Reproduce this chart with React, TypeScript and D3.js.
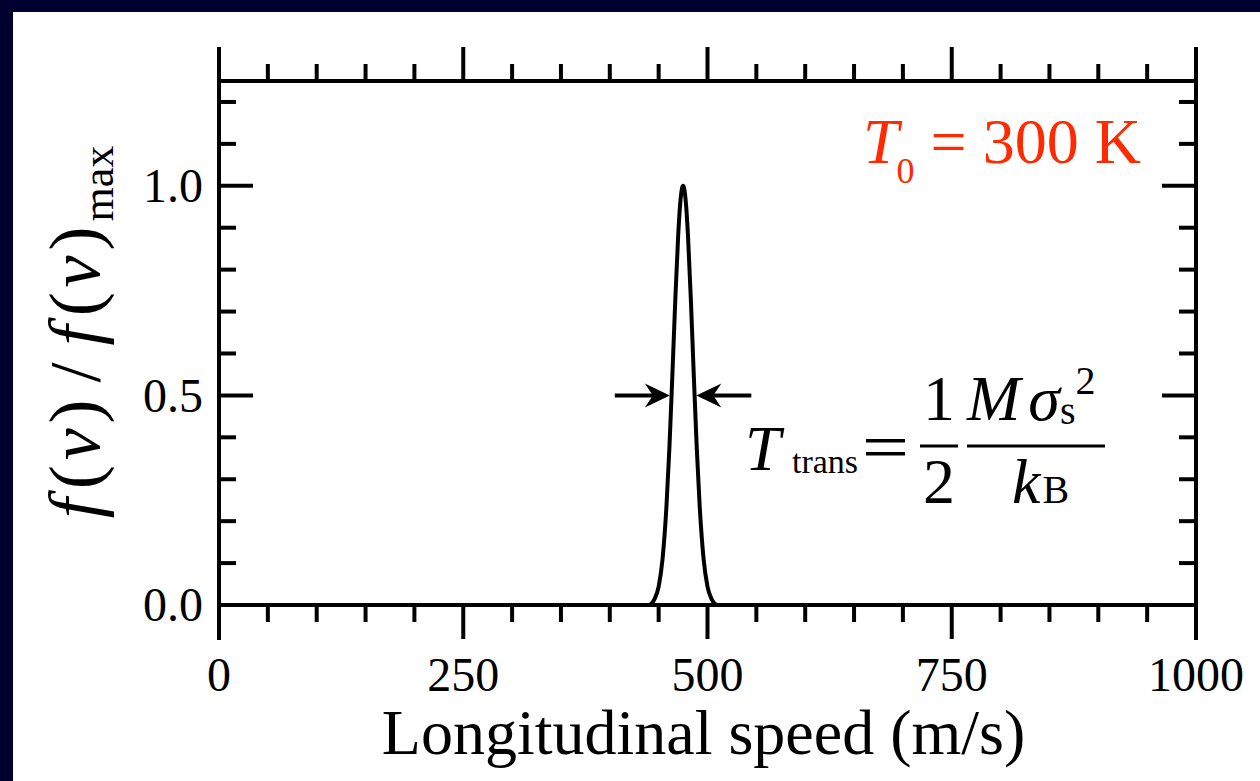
import React from "react";
import * as d3 from "d3";

// Data (normalised distribution vs longitudinal speed)
const speeds = [0, 440, 446, 450, 454, 458, 461, 464, 467, 470, 472, 474, 475, 476, 478, 480, 483, 486, 489, 492, 496, 500, 504, 510, 1000];
const fNorm = [0, 0, 0.015, 0.044, 0.11, 0.236, 0.375, 0.546, 0.726, 0.882, 0.956, 0.995, 1, 0.995, 0.956, 0.882, 0.726, 0.546, 0.375, 0.236, 0.11, 0.044, 0.015, 0, 0];
const xMajorTicks = [0, 250, 500, 750, 1000];
const xMinorTicks = d3.range(0, 1001, 50);
const yMajorTicks = [0, 0.5, 1.0];
const yMinorTicks = [0, 0.1, 0.2, 0.3, 0.4, 0.5, 0.6, 0.7, 0.8, 0.9, 1.0, 1.1, 1.2];
const halfWidthLeft = 463.5;
const halfWidthRight = 486.5;
const arrowLen = 57;

const W = 1260, H = 781;
const L = 219, R = 1196, T = 81, B = 605;
const serif = "'Liberation Serif', 'Times New Roman', serif";

export default function App() {
  const x = d3.scaleLinear().domain([0, 1000]).range([L, R]);
  const y = d3.scaleLinear().domain([0, 1.25]).range([B, T]);
  const pts = speeds.map((v, i) => [v, fNorm[i]] as [number, number]);
  const line = d3.line<[number, number]>().x(d => x(d[0])).y(d => y(d[1])).curve(d3.curveMonotoneX);
  const sw = 4;
  const isMajorX = (v: number) => xMajorTicks.includes(v);
  const isMajorY = (v: number) => yMajorTicks.some(m => Math.abs(m - v) < 1e-6);

  const ay = y(0.5);
  const xl = x(halfWidthLeft), xr = x(halfWidthRight);
  const arrowHead = (tip: number, dir: number) => {
    const hl = 25, hw = 12, notch = 8;
    return `M${tip},${ay} L${tip - dir * hl},${ay - hw} L${tip - dir * (hl - notch)},${ay} L${tip - dir * hl},${ay + hw} Z`;
  };

  return (
    <svg width={W} height={H} style={{ position: "absolute", left: 0, top: 0 }} fontFamily={serif}>
      <rect x={0} y={0} width={W} height={H} fill="#ffffff" />
      <rect x={0} y={0} width={W} height={12} fill="#000030" />
      <rect x={0} y={0} width={13} height={H} fill="#000030" />

      {/* curve */}
      <path d={line(pts) || ""} fill="none" stroke="#000" strokeWidth={sw} strokeLinejoin="round" />

      {/* frame */}
      <line x1={L} x2={R} y1={T} y2={T} stroke="#000" strokeWidth={sw} />
      <line x1={L} x2={R} y1={B} y2={B} stroke="#000" strokeWidth={sw} />
      <line x1={L} x2={L} y1={T - 33} y2={B + 35} stroke="#000" strokeWidth={sw} />
      <line x1={R} x2={R} y1={T - 33} y2={B + 35} stroke="#000" strokeWidth={sw} />

      {/* x ticks, outward top and bottom */}
      {xMinorTicks.map(v => {
        const len = isMajorX(v) ? 34 : 17;
        return (
          <g key={"xt" + v}>
            <line x1={x(v)} x2={x(v)} y1={T} y2={T - len} stroke="#000" strokeWidth={sw} />
            <line x1={x(v)} x2={x(v)} y1={B} y2={B + len} stroke="#000" strokeWidth={sw} />
          </g>
        );
      })}
      {/* y ticks, inward left and right */}
      {yMinorTicks.map(v => {
        const len = isMajorY(v) ? 34 : 17;
        return (
          <g key={"yt" + v}>
            <line x1={L} x2={L + len} y1={y(v)} y2={y(v)} stroke="#000" strokeWidth={sw} />
            <line x1={R} x2={R - len} y1={y(v)} y2={y(v)} stroke="#000" strokeWidth={sw} />
          </g>
        );
      })}

      {/* tick labels */}
      {xMajorTicks.map(v => (
        <text key={"xl" + v} x={x(v)} y={691} fontSize={48} textAnchor="middle" fill="#000">{v}</text>
      ))}
      {yMajorTicks.map(v => (
        <text key={"yl" + v} x={203} y={y(v)} dy="0.34em" fontSize={48} textAnchor="end" fill="#000">{v.toFixed(1)}</text>
      ))}

      {/* axis titles */}
      <text x={(L + R) / 2 - 4} y={754} fontSize={64} textAnchor="middle" fill="#000">Longitudinal speed (m/s)</text>
      <text transform={`translate(99,332) rotate(-90)`} fontSize={72} letterSpacing={5} textAnchor="middle" fill="#000">
        <tspan fontStyle="italic">f</tspan><tspan dx={4}>(</tspan><tspan fontStyle="italic">v</tspan>)<tspan dx={12}>/</tspan><tspan dx={12} fontStyle="italic">f</tspan><tspan dx={4}>(</tspan><tspan fontStyle="italic">v</tspan>)<tspan fontSize={44} dy={14} letterSpacing={0}>max</tspan>
      </text>

      {/* T0 label */}
      <text x={863} y={163} fontSize={64} fill="#ff2a00">
        <tspan fontStyle="italic">T</tspan><tspan fontSize={36} dy={20} dx={-2}>0</tspan><tspan dy={-20}> = 300 K</tspan>
      </text>

      {/* arrows */}
      <line x1={xl - arrowLen} x2={xl - 8} y1={ay} y2={ay} stroke="#000" strokeWidth={4} />
      <path d={arrowHead(xl - 2, 1)} fill="#000" />
      <line x1={xr + arrowLen} x2={xr + 8} y1={ay} y2={ay} stroke="#000" strokeWidth={4} />
      <path d={arrowHead(xr + 2, -1)} fill="#000" />

      {/* formula */}
      <text x={745} y={470} fontSize={64} fill="#000" fontStyle="italic">T</text>
      <text x={792} y={473} fontSize={34} fill="#000">trans</text>
      <rect x={866} y={439} width={39} height={3.5} fill="#000" />
      <rect x={866} y={452} width={39} height={3.5} fill="#000" />
      <text x={939} y={420} fontSize={64} textAnchor="middle" fill="#000">1</text>
      <line x1={920} x2={958} y1={446} y2={446} stroke="#000" strokeWidth={3} />
      <text x={939} y={503} fontSize={64} textAnchor="middle" fill="#000">2</text>
      <text x={967} y={420} fontSize={64} fill="#000">
        <tspan fontStyle="italic">M</tspan><tspan fontStyle="italic" dx={8}>σ</tspan><tspan fontSize={40} dy={4}>s</tspan><tspan fontSize={40} dy={-30}>2</tspan>
      </text>
      <line x1={967} x2={1105} y1={446} y2={446} stroke="#000" strokeWidth={3} />
      <text x={1012} y={503} fontSize={64} fill="#000">
        <tspan fontStyle="italic">k</tspan><tspan fontSize={40} dx={2}>B</tspan>
      </text>
    </svg>
  );
}
